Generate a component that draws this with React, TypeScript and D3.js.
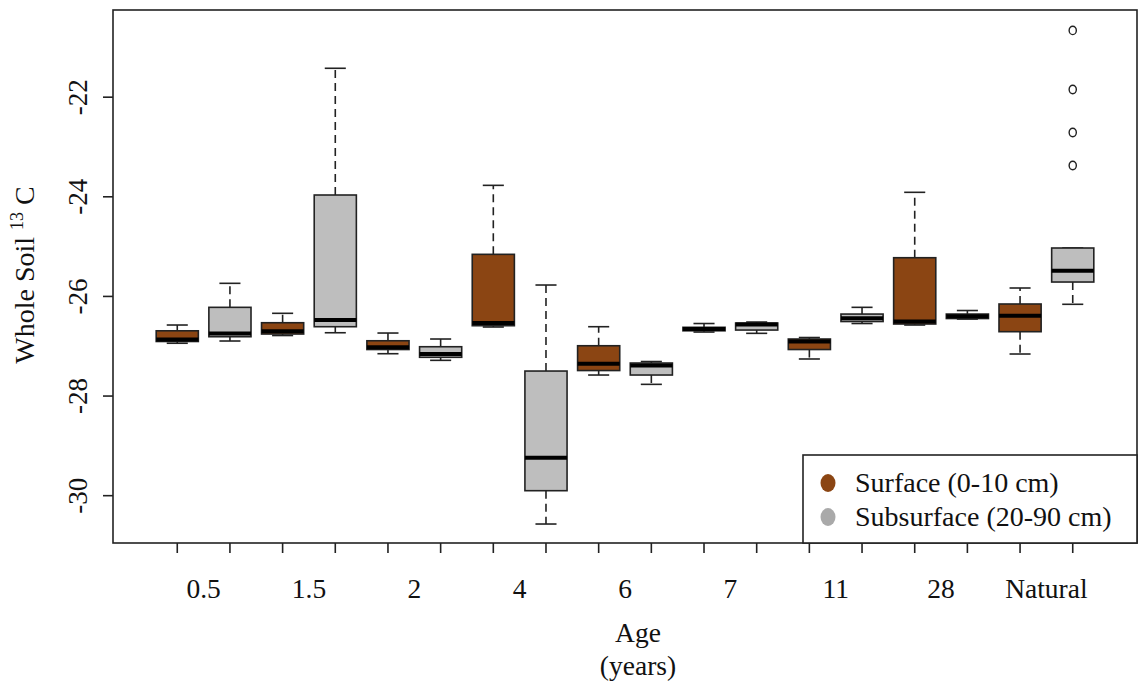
import React from "react";
import * as d3 from "d3";

// Five-number summaries per age class: [lower whisker, Q1, median, Q3, upper whisker]
const ageLabels = ["0.5", "1.5", "2", "4", "6", "7", "11", "28", "Natural"];

const surfaceBoxes: number[][] = [
  [-26.94, -26.905, -26.865, -26.69, -26.574],
  [-26.785, -26.755, -26.7, -26.528, -26.339],
  [-27.15, -27.066, -27.02, -26.89, -26.735],
  [-26.614, -26.588, -26.534, -25.155, -23.77],
  [-27.578, -27.488, -27.351, -26.99, -26.608],
  [-26.715, -26.69, -26.654, -26.62, -26.544],
  [-27.256, -27.066, -26.905, -26.855, -26.825],
  [-26.574, -26.554, -26.504, -25.223, -23.91],
  [-27.156, -26.708, -26.387, -26.152, -25.831],
];

const subsurfaceBoxes: number[][] = [
  [-26.895, -26.809, -26.745, -26.219, -25.737],
  [-26.729, -26.608, -26.474, -23.964, -21.42],
  [-27.283, -27.222, -27.156, -27.01, -26.855],
  [-30.569, -29.9, -29.238, -27.498, -25.771],
  [-27.765, -27.578, -27.387, -27.337, -27.307],
  [-26.741, -26.675, -26.564, -26.534, -26.514],
  [-26.544, -26.504, -26.44, -26.354, -26.219],
  [-26.454, -26.444, -26.4, -26.354, -26.283],
  [-26.158, -25.711, -25.484, -25.028, -25.028],
];

// Outliers beyond the whiskers (subsurface, Natural)
const naturalSubsurfaceOutliers = [-20.66, -21.846, -22.709, -23.372];

const yTicks = [-30, -28, -26, -24, -22];

const seriesNames = ["Surface (0-10 cm)", "Subsurface (20-90 cm)"];
const boxFills = ["#8B4513", "#BEBEBE"];
const legendFills = ["#8B4513", "#A9A9A9"];

const W = 1138;
const H = 685;
const plot = { left: 113, right: 1137, top: 10, bottom: 543 };
const font = "'Liberation Serif', 'Times New Roman', serif";

export default function App() {
  const n = ageLabels.length * 2;
  const x = d3
    .scaleLinear()
    .domain([0.5 - 0.04 * n, n + 0.5 + 0.04 * n])
    .range([plot.left, plot.right]);
  const y = d3.scaleLinear().domain([-30.95, -20.25]).range([plot.bottom, plot.top]);

  const unit = x(1) - x(0);
  const boxW = unit * 0.8;
  const capW = boxW * 0.5;

  const boxes: { pos: number; stats: number[]; fill: string; outliers: number[] }[] = [];
  ageLabels.forEach((_, i) => {
    boxes.push({ pos: 2 * i + 1, stats: surfaceBoxes[i], fill: boxFills[0], outliers: [] });
    boxes.push({
      pos: 2 * i + 2,
      stats: subsurfaceBoxes[i],
      fill: boxFills[1],
      outliers: i === ageLabels.length - 1 ? naturalSubsurfaceOutliers : [],
    });
  });

  return (
    <svg
      width={W}
      height={H}
      style={{ position: "absolute", left: 0, top: 0, background: "#fff" }}
      fontFamily={font}
    >
      <rect x={0} y={0} width={W} height={H} fill="#fff" />

      {boxes.map((b, i) => {
        const [lo, q1, med, q3, hi] = b.stats;
        const cx = x(b.pos);
        return (
          <g key={i}>
            {/* whiskers */}
            <line x1={cx} x2={cx} y1={y(q3)} y2={y(hi)} stroke="#222" strokeWidth={1.6} strokeDasharray="8,5" />
            <line x1={cx} x2={cx} y1={y(q1)} y2={y(lo)} stroke="#222" strokeWidth={1.6} strokeDasharray="8,5" />
            <line x1={cx - capW / 2} x2={cx + capW / 2} y1={y(hi)} y2={y(hi)} stroke="#222" strokeWidth={1.6} />
            <line x1={cx - capW / 2} x2={cx + capW / 2} y1={y(lo)} y2={y(lo)} stroke="#222" strokeWidth={1.6} />
            {/* box */}
            <rect
              x={cx - boxW / 2}
              y={y(q3)}
              width={boxW}
              height={Math.max(0, y(q1) - y(q3))}
              fill={b.fill}
              stroke="#222"
              strokeWidth={1.6}
            />
            {/* median */}
            <line x1={cx - boxW / 2} x2={cx + boxW / 2} y1={y(med)} y2={y(med)} stroke="#000" strokeWidth={4} />
            {b.outliers.map((o, j) => (
              <ellipse key={j} cx={cx} cy={y(o)} rx={3.6} ry={4.2} fill="none" stroke="#222" strokeWidth={1.4} />
            ))}
          </g>
        );
      })}

      {/* frame */}
      <rect
        x={plot.left}
        y={plot.top}
        width={plot.right - plot.left}
        height={plot.bottom - plot.top}
        fill="none"
        stroke="#222"
        strokeWidth={1.6}
      />

      {/* y axis */}
      {yTicks.map((t) => (
        <g key={t}>
          <line x1={plot.left - 10} x2={plot.left} y1={y(t)} y2={y(t)} stroke="#222" strokeWidth={1.6} />
          <text
            transform={`translate(${87},${y(t)}) rotate(-90)`}
            textAnchor="middle"
            fontSize={27}
            fill="#111"
          >
            {t}
          </text>
        </g>
      ))}
      <text transform={`translate(${34},${275}) rotate(-90)`} textAnchor="middle" fontSize={28} fill="#111">
        Whole Soil{" "}
        <tspan fontSize={18} dy={-11}>
          13
        </tspan>
        <tspan dy={11}> C</tspan>
      </text>

      {/* x axis */}
      {boxes.map((b, i) => (
        <line key={i} x1={x(b.pos)} x2={x(b.pos)} y1={plot.bottom} y2={plot.bottom + 10} stroke="#222" strokeWidth={1.6} />
      ))}
      {ageLabels.map((l, i) => (
        <text key={l} x={x(2 * i + 1.5)} y={598} textAnchor="middle" fontSize={27.5} fill="#111">
          {l}
        </text>
      ))}
      <text x={638} y={642} textAnchor="middle" fontSize={27.5} fill="#111">
        Age
      </text>
      <text x={638} y={675} textAnchor="middle" fontSize={27.5} fill="#111">
        (years)
      </text>

      {/* legend */}
      <rect x={803} y={455} width={plot.right - 803} height={plot.bottom - 455} fill="#fff" stroke="#222" strokeWidth={1.6} />
      {seriesNames.map((s, i) => (
        <g key={s}>
          <ellipse cx={828} cy={483 + i * 34} rx={7.5} ry={9} fill={legendFills[i]} />
          <text x={855} y={492 + i * 34} fontSize={28} fill="#111">
            {s}
          </text>
        </g>
      ))}
    </svg>
  );
}
